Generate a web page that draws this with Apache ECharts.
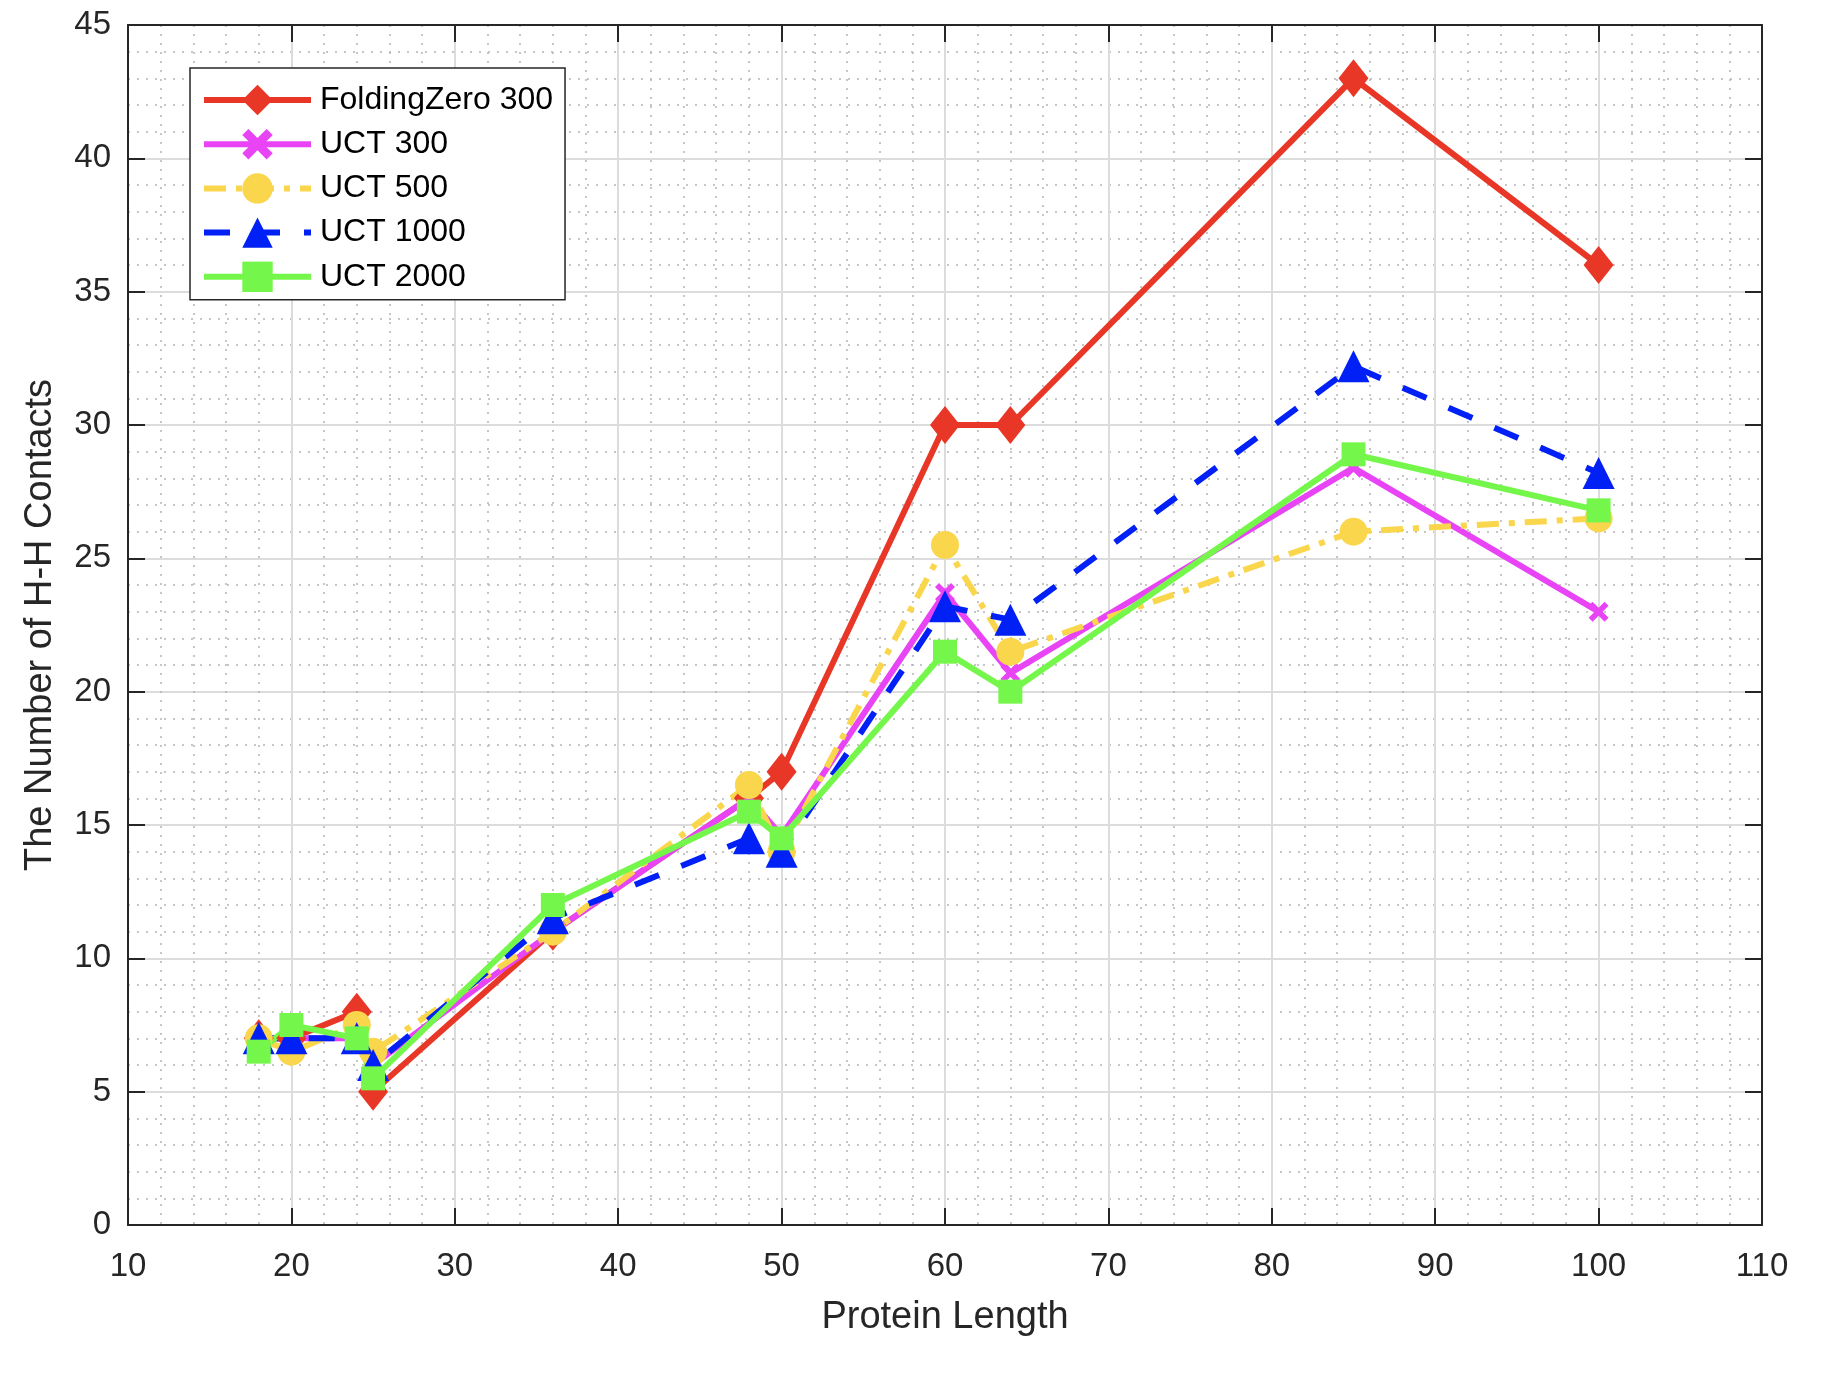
<!DOCTYPE html>
<html>
<head>
<meta charset="utf-8">
<title>H-H Contacts</title>
<script src="https://cdn.jsdelivr.net/npm/echarts@6/dist/echarts.min.js"></script>
<style>
  html, body { margin: 0; padding: 0; background: #fff; }
  #chart { width: 1830px; height: 1382px; }
</style>
</head>
<body>
<div id="chart"></div>
<script>
// data
var lengths = [18, 20, 24, 25, 36, 48, 50, 60, 64, 85, 100];
var foldingZero300 = [7, 7, 8, 5, 11, 16, 17, 30, 30, 43, 36];
var uct300 = [7, 7, 7, 6, 11, 16, 14.6, 23.7, 20.7, 28.4, 23];
var uct500 = [7, 6.5, 7.5, 6.5, 11, 16.5, 14, 25.5, 21.5, 26, 26.5];
var uct1000 = [7, 7, 7, 6, 11.5, 14.5, 14, 23.2, 22.7, 32.2, 28.2];
var uct2000 = [6.5, 7.5, 7, 5.5, 12, 15.5, 14.5, 21.5, 20, 28.9, 26.8];
var seriesNames = ['FoldingZero 300', 'UCT 300', 'UCT 500', 'UCT 1000', 'UCT 2000'];
var xTicks = [10, 110, 10];   // min, max, step
var yTicks = [0, 45, 5];

(function(){
  var font = 'Liberation Sans, Helvetica, Arial, sans-serif'
  var axisColor = '#262626'
  var xMark = 'path://M0,2 L2,0 L5,3 L8,0 L10,2 L7,5 L10,8 L8,10 L5,7 L2,10 L0,8 L3,5 Z'

  function pairs(ys) {
    return lengths.map(function(x, i) { return [x, ys[i]] })
  }

  function line(name, ys, color, symbol, size, dash) {
    return {
      name: name,
      type: 'line',
      data: pairs(ys),
      symbol: symbol,
      symbolSize: size,
      showAllSymbol: true,
      lineStyle: { color: color, width: 6, type: dash || 'solid', cap: 'butt', join: 'miter' },
      itemStyle: { color: color, borderWidth: 0 },
      emphasis: { disabled: true },
      animation: false
    }
  }

  var myChart = echarts.init(document.getElementById('chart'))

  var baseX = {
    type: 'value',
    min: xTicks[0],
    max: xTicks[1],
    interval: xTicks[2],
    axisLine: { show: true, onZero: false, lineStyle: { color: axisColor, width: 2 } },
    axisTick: { show: true, inside: true, length: 17, lineStyle: { color: axisColor, width: 2 } }
  }
  var baseY = {
    type: 'value',
    min: yTicks[0],
    max: yTicks[1],
    interval: yTicks[2],
    axisLine: { show: true, onZero: false, lineStyle: { color: axisColor, width: 2 } },
    axisTick: { show: true, inside: true, length: 17, lineStyle: { color: axisColor, width: 2 } }
  }

  var option = {
    backgroundColor: '#fff',
    animation: false,
    textStyle: { fontFamily: font },
    grid: { left: 128, right: 68, top: 25, bottom: 157, containLabel: false },
    legend: {
      orient: 'vertical',
      left: 190,
      top: 68,
      data: seriesNames,
      itemWidth: 107,
      itemHeight: 38,
      itemGap: 12.2,
      padding: [16, 12, 7, 11],
      borderColor: axisColor,
      borderWidth: 1.5,
      backgroundColor: '#fff',
      lineStyle: { width: 6 },
      textStyle: { fontSize: 32, color: '#000', fontFamily: font, padding: [0, 0, 0, 4] },
      selectedMode: false
    },
    xAxis: [
      Object.assign({}, baseX, {
        position: 'bottom',
        name: 'Protein Length',
        nameLocation: 'middle',
        nameGap: 74,
        nameTextStyle: { fontSize: 38, color: axisColor, fontFamily: font },
        axisLabel: { fontSize: 33, color: axisColor, margin: 25, fontFamily: font },
        minorTick: { show: false, splitNumber: 5 },
        splitLine: { show: true, lineStyle: { color: '#dcdcdc', width: 2 } },
        minorSplitLine: { show: true, lineStyle: { color: '#b4b4b4', width: 1.5, type: [2, 7] } }
      }),
      Object.assign({}, baseX, {
        position: 'top',
        axisLabel: { show: false },
        splitLine: { show: false }
      })
    ],
    yAxis: [
      Object.assign({}, baseY, {
        position: 'left',
        name: 'The Number of H-H Contacts',
        nameLocation: 'middle',
        nameGap: 68,
        nameTextStyle: { fontSize: 38, color: axisColor, fontFamily: font },
        axisLabel: { fontSize: 33, color: axisColor, margin: 17, fontFamily: font },
        minorTick: { show: false, splitNumber: 5 },
        splitLine: { show: true, lineStyle: { color: '#dcdcdc', width: 2 } },
        minorSplitLine: { show: true, lineStyle: { color: '#b4b4b4', width: 1.5, type: [2, 7] } }
      }),
      Object.assign({}, baseY, {
        position: 'right',
        axisLabel: { show: false },
        splitLine: { show: false }
      })
    ],
    series: [
      line(seriesNames[0], foldingZero300, '#E93727', 'diamond', [30, 38]),
      line(seriesNames[1], uct300, '#E844F5', xMark, 20),
      line(seriesNames[2], uct500, '#FAD64C', 'circle', 28, [22, 10, 6, 10]),
      line(seriesNames[3], uct1000, '#0020F5', 'triangle', 32, [26, 24]),
      line(seriesNames[4], uct2000, '#74F74A', 'rect', 24)
    ]
  }
  myChart.setOption(option)
})();
</script>
</body>
</html>
